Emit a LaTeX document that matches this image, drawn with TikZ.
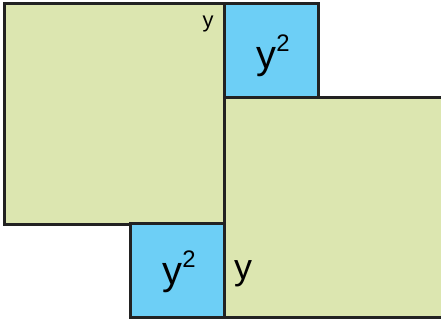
\documentclass[tikz,border=0pt]{standalone}
\usepackage{fontspec}
\setmainfont{Liberation Sans}
\definecolor{sqgreen}{RGB}{220,230,176}
\definecolor{sqblue}{RGB}{109,207,246}
\definecolor{edge}{RGB}{34,34,34}
\tikzset{
  square/.style={draw=edge,line width=3bp},
  biglabel/.style={font=\fontsize{40}{40}\selectfont,inner sep=0pt},
}
\newcommand{\ysq}{y\raisebox{17bp}{\fontsize{24}{24}\selectfont 2}}
\begin{document}
\begin{tikzpicture}[x=1bp,y=1bp]
\useasboundingbox (0,0) rectangle (441,320);
\begin{scope} % start of clip scope
\clip (0,0) rectangle (441,320);
\filldraw[square,fill=sqgreen] (224,3) rectangle (448,223); % right rectangle
\end{scope} % end of clip scope
\filldraw[square,fill=sqgreen] (4,96) rectangle (224,316);
\filldraw[square,fill=sqblue] (224,223) rectangle (318,316);
\filldraw[square,fill=sqblue] (130,3) rectangle (224,97);
\node[biglabel] (topsq) at (273,264) {\ysq};
\node[biglabel] (botsq) at (179,48) {\ysq};
\node[biglabel,font=\fontsize{36}{36}\selectfont] (side) at (243,46) {y};
\node[font=\fontsize{22}{22}\selectfont,inner sep=0pt] (top) at (208,296) {y};
\end{tikzpicture}
\end{document}
